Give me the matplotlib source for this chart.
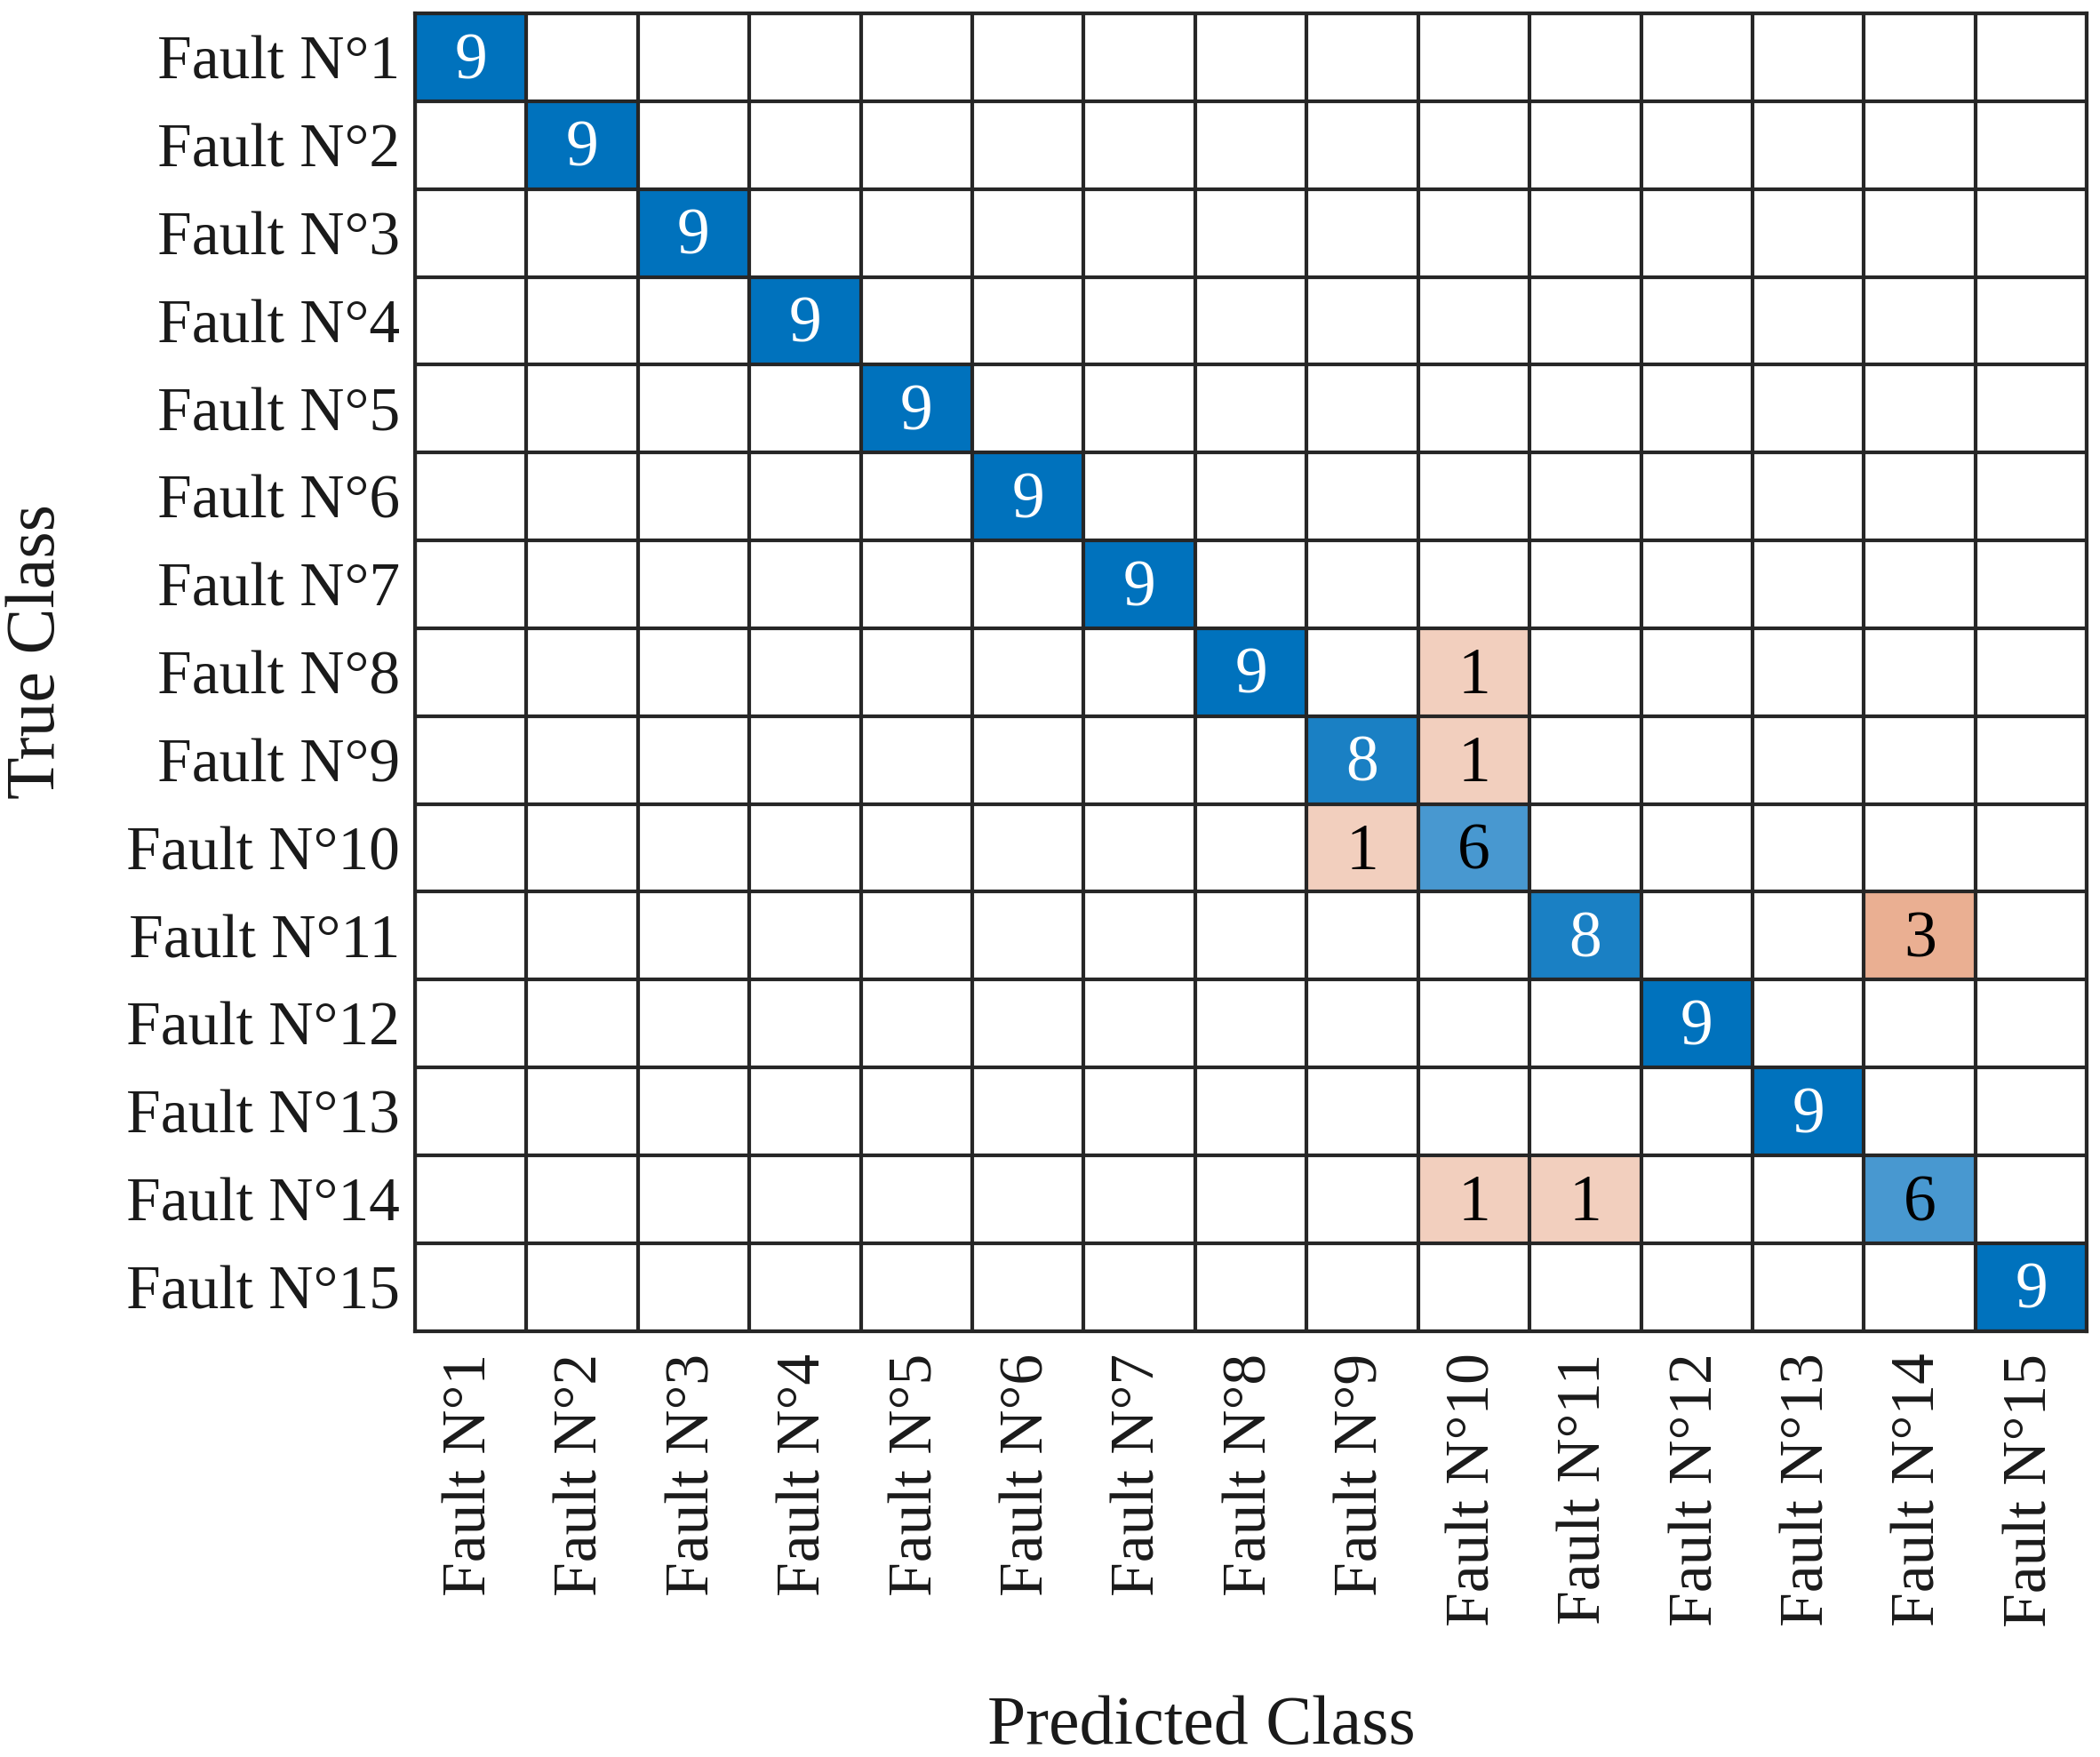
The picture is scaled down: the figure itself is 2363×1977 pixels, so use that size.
import matplotlib.pyplot as plt
import numpy as np
from matplotlib.colors import to_rgb

plt.rcParams['font.family'] = ['Liberation Serif', 'DejaVu Serif']

classes = ["Fault N°%d" % i for i in range(1, 16)]

# confusion matrix counts (rows = true class, cols = predicted class)
cm = np.zeros((15, 15), dtype=int)
diag = [9, 9, 9, 9, 9, 9, 9, 9, 8, 6, 8, 9, 9, 6, 9]
for i, v in enumerate(diag):
    cm[i, i] = v
off_rows = [7, 8, 9, 10, 13, 13]
off_cols = [9, 9, 8, 13, 9, 10]
off_vals = [1, 1, 1, 3, 1, 1]
for r, c, v in zip(off_rows, off_cols, off_vals):
    cm[r, c] = v

# cell colours similar to MATLAB confusionchart
diag_colors = {9: "#0072BD", 8: "#1A80C4", 6: "#4898D0"}
off_colors = {1: "#F2CFBE", 3: "#EAAF92"}

n = len(classes)
img = np.ones((n, n, 3))
for i in range(n):
    for j in range(n):
        v = cm[i, j]
        if v == 0:
            continue
        col = diag_colors[v] if i == j else off_colors[v]
        img[i, j] = to_rgb(col)

fig = plt.figure(figsize=(23.63, 19.77), dpi=100)
ax = fig.add_axes([0.1976, 0.2425, 0.7962, 0.7499])
ax.imshow(img, aspect='auto', interpolation='nearest')

for i in range(n):
    for j in range(n):
        v = cm[i, j]
        if v == 0:
            continue
        tc = 'white' if (i == j and v >= 8) else 'black'
        ax.text(j, i + 0.06, str(v), ha='center', va='center', fontsize=53, color=tc)

# grid lines
for k in range(n + 1):
    ax.axhline(k - 0.5, color='#262626', lw=3)
    ax.axvline(k - 0.5, color='#262626', lw=3)

ax.set_xlim(-0.5, n - 0.5)
ax.set_ylim(n - 0.5, -0.5)
ax.set_xticks(range(n))
ax.set_yticks(range(n))
ax.set_xticklabels(classes, rotation=90, fontsize=50, color='#1a1a1a')
ax.set_yticklabels(classes, fontsize=50, color='#1a1a1a')
ax.tick_params(axis='x', length=0, pad=18)
ax.tick_params(axis='y', length=0, pad=12)
for s in ax.spines.values():
    s.set_linewidth(3)
    s.set_color('#262626')

fig.text(0.0178, 0.629, "True Class", rotation=90, ha='center', va='center', fontsize=56, color='#1a1a1a')
fig.text(0.572, 0.017, "Predicted Class", ha='center', va='center', fontsize=56, color='#1a1a1a')

fig.savefig("out.png")
